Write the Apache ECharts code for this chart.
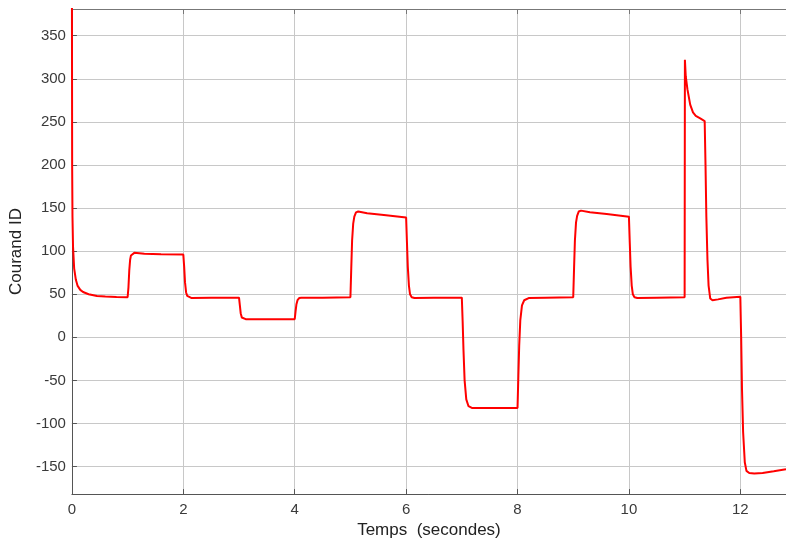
<!DOCTYPE html>
<html>
<head>
<meta charset="utf-8">
<script src="https://cdn.jsdelivr.net/npm/echarts@6/dist/echarts.min.js"></script>
<style>
html,body{margin:0;padding:0;background:#fff;}
#chart{width:786px;height:544px;}
</style>
</head>
<body>
<div id="chart"></div>
<script>
var timeSec = [
  0, 0.004, 0.01, 0.02, 0.04, 0.07, 0.1, 0.15, 0.2, 0.3, 0.45, 0.6, 0.8, 1.0,
  1.015, 1.03, 1.045, 1.06, 1.08, 1.12, 1.3, 1.6, 2.0,
  2.015, 2.03, 2.05, 2.07, 2.1, 2.15, 2.5, 3.0,
  3.015, 3.03, 3.05, 3.08, 3.12, 3.5, 4.0,
  4.015, 4.03, 4.05, 4.08, 4.12, 4.5, 5.0,
  5.015, 5.03, 5.05, 5.07, 5.1, 5.14, 5.3, 5.6, 6.0,
  6.015, 6.03, 6.05, 6.07, 6.1, 6.15, 6.5, 7.0,
  7.015, 7.03, 7.05, 7.08, 7.12, 7.18, 7.5, 8.0,
  8.015, 8.03, 8.05, 8.08, 8.12, 8.2, 8.5, 9.0,
  9.015, 9.03, 9.05, 9.07, 9.1, 9.14, 9.3, 9.6, 10.0,
  10.015, 10.03, 10.05, 10.07, 10.1, 10.15, 10.5, 11.0,
  11.005, 11.02, 11.05, 11.1, 11.15, 11.2, 11.28, 11.36,
  11.375, 11.39, 11.41, 11.43, 11.46, 11.5, 11.6, 11.75, 12.0,
  12.015, 12.03, 12.05, 12.08, 12.11, 12.16, 12.25, 12.4, 12.6, 12.82
];
var courantID = [
  400, 200, 140, 105, 80, 67, 60, 55, 52.5, 50, 48, 47.2, 46.8, 46.5,
  58, 78, 90, 95, 97, 98, 97, 96.5, 96,
  82, 64, 52, 48, 46, 45.5, 46, 46,
  37, 28, 23, 21.5, 21, 21, 21,
  30, 38, 43, 45.5, 46, 46, 46.5,
  80, 112, 132, 140, 145, 146, 144, 142, 139,
  110, 82, 60, 50, 46.5, 45.5, 46, 46,
  18, -15, -50, -72, -80, -82, -82, -82,
  -45, -10, 20, 37, 43, 45.5, 46, 46.5,
  80, 112, 133, 141, 146, 147, 145, 143, 140,
  110, 82, 60, 50, 46.5, 45.5, 46, 46.5,
  322, 303, 288, 270, 261, 257, 254, 251,
  200, 140, 90, 60, 45, 43, 44, 46, 47,
  0, -60, -110, -145, -155, -157.5, -158, -157.5, -155.5, -153
];
var xTicks = [0, 2, 4, 6, 8, 10, 12];
var yTicks = [-150, -100, -50, 0, 50, 100, 150, 200, 250, 300, 350];

var seriesData = timeSec.map(function (t, i) { return [t, courantID[i]]; });

var FONT = 'Liberation Sans';
var chart = echarts.init(document.getElementById('chart'));
chart.setOption({
  animation: false,
  backgroundColor: '#ffffff',
  grid: { left: 68, top: 9, right: 0, bottom: 49, containLabel: false },
  xAxis: [{
    type: 'value', min: 0, max: 12.82,
    name: 'Temps  (secondes)', nameLocation: 'middle', nameGap: 27,
    nameTextStyle: { fontFamily: FONT, fontSize: 17, color: '#222' },
    axisLine: { show: true, onZero: false, lineStyle: { color: '#555', width: 1 } },
    axisTick: { show: true, inside: true, length: 5, customValues: xTicks, lineStyle: { color: '#555' } },
    axisLabel: { customValues: xTicks, margin: 8, fontFamily: FONT, fontSize: 15, color: '#3a3a3a' },
    splitLine: { show: true, lineStyle: { color: '#c8c8c8', width: 1 } }
  }, {
    type: 'value', min: 0, max: 12.82, position: 'top',
    axisLine: { show: true, onZero: false, lineStyle: { color: '#777', width: 1 } },
    axisTick: { show: true, inside: true, length: 5, customValues: xTicks, lineStyle: { color: '#777' } },
    axisLabel: { show: false },
    splitLine: { show: false }
  }],
  yAxis: {
    type: 'value', min: -182, max: 381,
    name: 'Courand ID', nameLocation: 'middle', nameGap: 33, nameRotate: 90,
    nameTextStyle: { fontFamily: FONT, fontSize: 17, color: '#222' },
    axisLine: { show: true, onZero: false, lineStyle: { color: '#555', width: 1 } },
    axisTick: { show: true, inside: true, length: 5, customValues: yTicks, lineStyle: { color: '#555' } },
    axisLabel: { customValues: yTicks, margin: 6, fontFamily: FONT, fontSize: 15, color: '#3a3a3a' },
    splitLine: { show: true, lineStyle: { color: '#c8c8c8', width: 1 } }
  },
  series: [{
    type: 'line',
    data: seriesData,
    showSymbol: false,
    smooth: false,
    clip: true,
    lineStyle: { color: '#ff0000', width: 2 },
    itemStyle: { color: '#ff0000' }
  }]
});
</script>
</body>
</html>
